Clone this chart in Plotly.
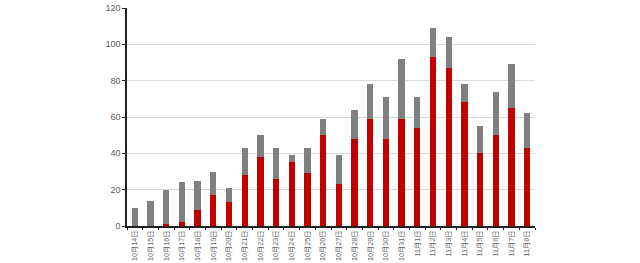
import plotly.graph_objects as go

dates = ["10月14日","10月15日","10月16日","10月17日","10月18日","10月19日","10月20日",
         "10月21日","10月22日","10月23日","10月24日","10月25日","10月26日","10月27日",
         "10月28日","10月29日","10月30日","10月31日","11月1日","11月2日","11月3日",
         "11月4日","11月5日","11月6日","11月7日","11月8日"]
red_vals = [0,0,1,2,9,17,13,28,38,26,35,29,50,23,48,59,48,59,54,93,87,68,40,50,65,43]
totals = [10,14,20,24,25,30,21,43,50,43,39,43,59,39,64,78,71,92,71,109,104,78,55,74,89,62]
gray_vals = [t - r for t, r in zip(totals, red_vals)]
y_ticks = [0,20,40,60,80,100,120]

fig = go.Figure()
fig.add_trace(go.Bar(x=dates, y=red_vals, marker=dict(color="#c00000", line_width=0), name="red"))
fig.add_trace(go.Bar(x=dates, y=gray_vals, marker=dict(color="#808080", line_width=0), name="gray"))

fig.update_layout(
    barmode="stack",
    bargap=0.6,
    width=640, height=263,
    margin=dict(l=127, r=105, t=8, b=37),
    paper_bgcolor="white", plot_bgcolor="white",
    showlegend=False,
    font=dict(family="Noto Sans CJK SC, DejaVu Sans", size=9, color="#595959"),
)
fig.update_yaxes(
    range=[0, 120], tickvals=y_ticks,
    showgrid=True, gridcolor="#d9d9d9", gridwidth=1,
    showline=True, linecolor="#222222", linewidth=1.5,
    ticks="outside", ticklen=3, tickcolor="#222222",
    tickfont=dict(size=9, color="#595959", family="Liberation Sans, Arial"),
    zeroline=False, automargin=False,
)
fig.update_xaxes(
    showline=True, linecolor="#222222", linewidth=1.5,
    ticks="outside", ticklen=2, tickcolor="#222222",
    tickson="boundaries",
    tickangle=-90,
    tickfont=dict(size=7.2, color="#666666", family="Liberation Sans, Noto Sans CJK SC"),
    showgrid=False, automargin=False,
)
fig.write_html("out.html")
